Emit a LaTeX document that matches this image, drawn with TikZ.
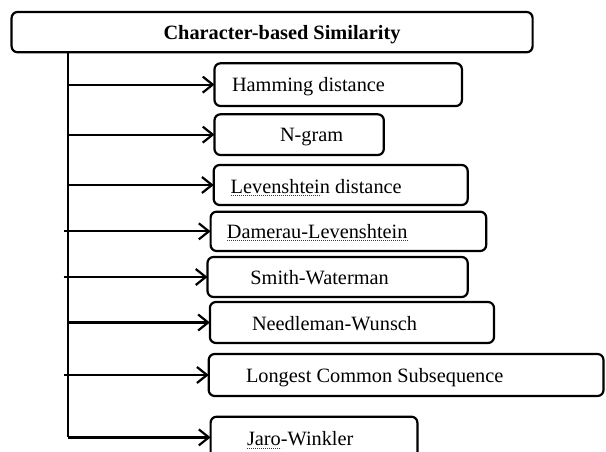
\documentclass[tikz,border=0pt]{standalone}
\usepackage{fontspec}
\setmainfont{Liberation Serif}
\usetikzlibrary{arrows.meta}
\tikzset{
  box/.style={draw, line width=2.2bp, rounded corners=6bp, inner sep=0pt, outer sep=0pt},
  lbl/.style={inner sep=0pt, outer sep=0pt, anchor=base west, font=\fontsize{20.4}{24}\selectfont},
  arr/.style={-{Straight Barb[length=10bp,width=16bp,line width=2.2bp]}, line width=2.2bp},
  trunkline/.style={line width=2.2bp},
  squig/.style={red!80!black, line width=0.6bp, dash pattern=on 1bp off 1bp}
}
\begin{document}
\begin{tikzpicture}[x=1bp,y=-1bp]
\useasboundingbox (0,0) rectangle (606,452);
\clip (0,0) rectangle (606,452);
% boxes
\node[box, minimum width=521bp, minimum height=40.3bp] (title) at (272.1,32.15) {};
\node[box, minimum width=247.4bp, minimum height=42.7bp] (b1) at (338.2,84.65) {};
\node[box, minimum width=169.3bp, minimum height=40.7bp] (b2) at (299.15,134.65) {};
\node[box, minimum width=254bp, minimum height=40bp] (b3) at (340.7,185) {};
\node[box, minimum width=275.6bp, minimum height=39.3bp] (b4) at (348.4,231.35) {};
\node[box, minimum width=260.2bp, minimum height=40bp] (b5) at (337.6,277) {};
\node[box, minimum width=284.1bp, minimum height=41bp] (b6) at (351.95,322.5) {};
\node[box, minimum width=394.8bp, minimum height=42bp] (b7) at (406.1,375) {};
\node[box, minimum width=206.8bp, minimum height=41.4bp] (b8) at (314,437.4) {};
% texts
\node[lbl, anchor=base, font=\fontsize{20.4}{24}\selectfont\bfseries] (t0) at (282,39.5) {Character-based Similarity};
\node[lbl] (t1) at (232,91.7) {Hamming distance};
\node[lbl] (t2) at (280,141.7) {N-gram};
\node[lbl] (t3) at (230.7,193.3) {Levenshtein distance};
\node[lbl] (t4) at (226.9,238.3) {Damerau-Levenshtein};
\node[lbl] (t5) at (250.4,285) {Smith-Waterman};
\node[lbl] (t6) at (252,330) {Needleman-Wunsch};
\node[lbl] (t7) at (246,382.7) {Longest Common Subsequence};
\node[lbl] (t8) at (247,445.7) {Jaro-Winkler};
% spell-check underlines
\draw[squig] ([yshift=-2.5bp]t3.base west) -- ++(90,0);
\draw[squig] ([yshift=-2.5bp]t4.base west) -- ++(181,0);
\draw[squig] ([yshift=-2.5bp]t8.base west) -- ++(34,0);
% trunk
\coordinate (trunk) at (67.6,0);
\draw[trunkline] (title.south -| trunk) -- (b8.west -| trunk);
% arrows
\draw[arr] (b1.west -| trunk) -- (b1.west);
\draw[arr] (b2.west -| trunk) -- (b2.west);
\draw[arr] (b3.west -| trunk) -- (b3.west);
\draw[arr] ([xshift=-4bp]b4.west -| trunk) -- (b4.west);
\draw[arr] ([xshift=-4bp]b5.west -| trunk) -- (b5.west);
\draw[arr] (b6.west -| trunk) -- (b6.west);
\draw[arr] ([xshift=-4bp]b7.west -| trunk) -- (b7.west);
\draw[arr] (b8.west -| trunk) -- (b8.west);
\end{tikzpicture}
\end{document}
